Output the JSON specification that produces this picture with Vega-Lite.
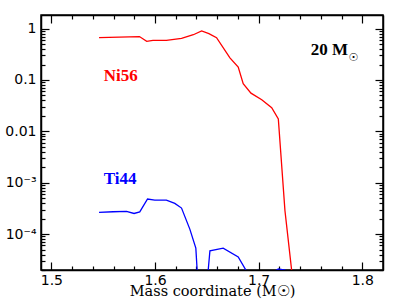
{
  "$schema": "https://vega.github.io/schema/vega-lite/v6.json",
  "width": 342,
  "height": 255,
  "autosize": "none",
  "padding": {"left": 41, "top": 15, "right": 24, "bottom": 34},
  "background": "white",
  "config": {
    "view": {"stroke": "black", "strokeWidth": 1.5},
    "axis": {"grid": false, "domainColor": "black", "domainWidth": 1.5, "tickColor": "black", "tickWidth": 1.2, "labelColor": "black", "titleColor": "black", "labelFlush": false, "labelOverlap": false}
  },
  "datasets": {
    "ni56": [
      {"mass": 1.546, "abundance": 0.667},
      {"mass": 1.585, "abundance": 0.70},
      {"mass": 1.592, "abundance": 0.565},
      {"mass": 1.598, "abundance": 0.59},
      {"mass": 1.611, "abundance": 0.59},
      {"mass": 1.6256, "abundance": 0.647},
      {"mass": 1.637, "abundance": 0.76},
      {"mass": 1.645, "abundance": 0.90},
      {"mass": 1.652, "abundance": 0.80},
      {"mass": 1.6594, "abundance": 0.667},
      {"mass": 1.6723, "abundance": 0.27},
      {"mass": 1.6803, "abundance": 0.178},
      {"mass": 1.6851, "abundance": 0.0845},
      {"mass": 1.6926, "abundance": 0.0554},
      {"mass": 1.703, "abundance": 0.0412},
      {"mass": 1.7126, "abundance": 0.0288},
      {"mass": 1.719, "abundance": 0.0175},
      {"mass": 1.7254, "abundance": 0.000285},
      {"mass": 1.7335, "abundance": 0.00001}
    ],
    "ti44": [
      {"mass": 1.546, "abundance": 0.000264},
      {"mass": 1.5595, "abundance": 0.000272},
      {"mass": 1.5725, "abundance": 0.000278},
      {"mass": 1.5798, "abundance": 0.000252},
      {"mass": 1.5853, "abundance": 0.00027},
      {"mass": 1.5928, "abundance": 0.000482},
      {"mass": 1.5998, "abundance": 0.00046},
      {"mass": 1.611, "abundance": 0.00046},
      {"mass": 1.6191, "abundance": 0.000396},
      {"mass": 1.6256, "abundance": 0.000321},
      {"mass": 1.6336, "abundance": 0.000125},
      {"mass": 1.6394, "abundance": 0.0000533},
      {"mass": 1.6445, "abundance": 0.000001},
      {"mass": 1.6456, "abundance": 0.000001},
      {"mass": 1.653, "abundance": 0.0000474},
      {"mass": 1.6658, "abundance": 0.0000533},
      {"mass": 1.6803, "abundance": 0.000036},
      {"mass": 1.6963, "abundance": 0.00001},
      {"mass": 1.719, "abundance": 0.000021},
      {"mass": 1.7254, "abundance": 0.00002},
      {"mass": 1.73, "abundance": 0.000001}
    ]
  },
  "layer": [
    {
      "data": {"name": "ni56"},
      "mark": {"type": "line", "color": "#ff0000", "strokeWidth": 1.3, "clip": true},
      "encoding": {
        "x": {"field": "mass", "type": "quantitative",
          "scale": {"domain": [1.49, 1.82], "nice": false, "zero": false},
          "axis": {"orient": "bottom",
            "values": [1.5,1.52,1.54,1.56,1.58,1.6,1.62,1.64,1.66,1.68,1.7,1.72,1.74,1.76,1.78,1.8],
            "tickSize": {"condition": {"test": "abs(datum.value*10 - round(datum.value*10)) < 0.001", "value": -8}, "value": -4},
            "labelExpr": "abs(datum.value*10 - round(datum.value*10)) < 0.001 ? format(datum.value, '.1f') : ''",
            "labelFont": "DejaVu Sans", "labelFontSize": 14, "labelPadding": 11,
            "title": "Mass coordinate (M☉)", "titleFont": "DejaVu Serif", "titleFontSize": 14.5, "titleFontWeight": "normal",
            "titleBaseline": "alphabetic", "titleY": 25}},
        "y": {"field": "abundance", "type": "quantitative",
          "scale": {"type": "log", "domain": [0.00002, 1.84], "nice": false},
          "axis": {"orient": "left",
            "values": [0.00002,0.00003,0.00004,0.00005,0.00006,0.00007,0.00008,0.00009,0.0001,0.0002,0.0003,0.0004,0.0005,0.0006,0.0007,0.0008,0.0009,0.001,0.002,0.003,0.004,0.005,0.006,0.007,0.008,0.009,0.01,0.02,0.03,0.04,0.05,0.06,0.07,0.08,0.09,0.1,0.2,0.3,0.4,0.5,0.6,0.7,0.8,0.9,1],
            "tickSize": {"condition": {"test": "abs(log(datum.value)/LN10 - round(log(datum.value)/LN10)) < 0.000001", "value": -8}, "value": -4},
            "labelExpr": "abs(log(datum.value)/LN10 - round(log(datum.value)/LN10)) < 0.000001 ? (datum.value > 0.5 ? '1' : datum.value > 0.05 ? '0.1' : datum.value > 0.005 ? '0.01' : datum.value > 0.0005 ? '10⁻³' : '10⁻⁴') : ''",
            "labelFont": "DejaVu Sans", "labelFontSize": 14, "labelPadding": 13,
            "title": null}}
      }
    },
    {
      "data": {"name": "ti44"},
      "mark": {"type": "line", "color": "#0000ff", "strokeWidth": 1.3, "clip": true},
      "encoding": {
        "x": {"field": "mass", "type": "quantitative",
          "axis": {"orient": "top",
            "values": [1.5,1.52,1.54,1.56,1.58,1.6,1.62,1.64,1.66,1.68,1.7,1.72,1.74,1.76,1.78,1.8],
            "tickSize": {"condition": {"test": "abs(datum.value*10 - round(datum.value*10)) < 0.001", "value": -8}, "value": -4},
            "labels": false, "title": null}},
        "y": {"field": "abundance", "type": "quantitative",
          "axis": {"orient": "right",
            "values": [0.00002,0.00003,0.00004,0.00005,0.00006,0.00007,0.00008,0.00009,0.0001,0.0002,0.0003,0.0004,0.0005,0.0006,0.0007,0.0008,0.0009,0.001,0.002,0.003,0.004,0.005,0.006,0.007,0.008,0.009,0.01,0.02,0.03,0.04,0.05,0.06,0.07,0.08,0.09,0.1,0.2,0.3,0.4,0.5,0.6,0.7,0.8,0.9,1],
            "tickSize": {"condition": {"test": "abs(log(datum.value)/LN10 - round(log(datum.value)/LN10)) < 0.000001", "value": -8}, "value": -4},
            "labels": false, "title": null}}
      }
    },
    {
      "data": {"values": [{"mass": 1.5505, "abundance": 0.095, "label": "Ni56"}]},
      "mark": {"type": "text", "color": "#ff0000", "font": "Liberation Serif", "fontWeight": "bold", "fontSize": 17, "align": "left", "baseline": "alphabetic"},
      "encoding": {
        "x": {"field": "mass", "type": "quantitative", "axis": null},
        "y": {"field": "abundance", "type": "quantitative", "axis": null},
        "text": {"field": "label"}
      }
    },
    {
      "data": {"values": [{"mass": 1.5505, "abundance": 0.000946, "label": "Ti44"}]},
      "mark": {"type": "text", "color": "#0000ff", "font": "Liberation Serif", "fontWeight": "bold", "fontSize": 17, "align": "left", "baseline": "alphabetic"},
      "encoding": {
        "x": {"field": "mass", "type": "quantitative", "axis": null},
        "y": {"field": "abundance", "type": "quantitative", "axis": null},
        "text": {"field": "label"}
      }
    },
    {
      "data": {"values": [{"mass": 1.7502, "abundance": 0.311, "label": "20 M"}]},
      "mark": {"type": "text", "color": "black", "font": "Liberation Serif", "fontWeight": "bold", "fontSize": 17, "align": "left", "baseline": "alphabetic"},
      "encoding": {
        "x": {"field": "mass", "type": "quantitative", "axis": null},
        "y": {"field": "abundance", "type": "quantitative", "axis": null},
        "text": {"field": "label"}
      }
    },
    {
      "data": {"values": [{"mass": 1.7915, "abundance": 0.27, "label": "☉"}]},
      "mark": {"type": "text", "color": "black", "font": "DejaVu Sans", "fontSize": 11, "align": "center", "baseline": "middle"},
      "encoding": {
        "x": {"field": "mass", "type": "quantitative", "axis": null},
        "y": {"field": "abundance", "type": "quantitative", "axis": null},
        "text": {"field": "label"}
      }
    }
  ],
  "resolve": {"axis": {"x": "independent", "y": "independent"}, "scale": {"x": "shared", "y": "shared"}}
}
